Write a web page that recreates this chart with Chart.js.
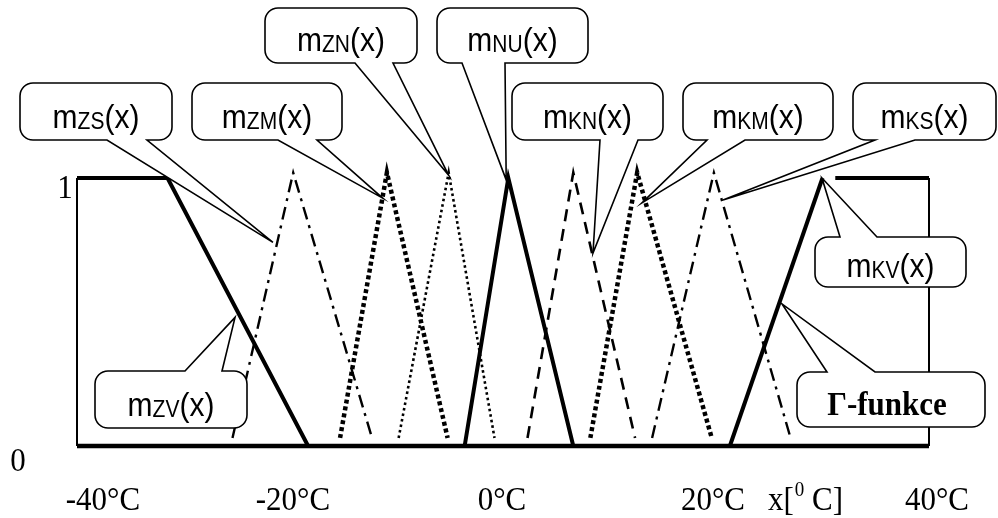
<!DOCTYPE html>
<html><head><meta charset="utf-8">
<script src="https://cdn.jsdelivr.net/npm/chart.js@4/dist/chart.umd.min.js"></script>
<style>html,body{margin:0;padding:0;background:#fff;overflow:hidden}</style>
</head><body>
<canvas id="c" width="998" height="518"></canvas>
<script>
// ---- data (x in °C, y = membership degree) ----
const xTickValues = [-40, -20, 0, 20, 40];
const xTickLabels = ['-40°C', '-20°C', '0°C', '20°C', '40°C'];
const yTickValues = [0, 1];
const yTickLabels = ['0', '1'];

const zvX = [-40, -31.5, -18.3];  const zvY = [1, 1, 0];
const zsX = [-25.4, -19.7, -12.3]; const zsY = [0.03, 1.02, 0.03];
const zmX = [-15.3, -10.9, -5.2];  const zmY = [0.03, 1.02, 0.03];
const znX = [-9.8, -5.1, -0.8];    const znY = [0.03, 1.02, 0.03];
const nuX = [-3.6, 0.5, 6.6];      const nuY = [0, 1, 0];
const knX = [2.3, 6.6, 12.4];      const knY = [0.03, 1.02, 0.03];
const kmX = [8.2, 12.6, 19.6];     const kmY = [0.03, 1.02, 0.03];
const ksX = [14.0, 19.8, 27.0];    const ksY = [0.03, 1.02, 0.03];
const kvX = [21.3, 30.0];          const kvY = [0, 1];
const kvTopX = [31.2, 40];         const kvTopY = [1, 1];
const baseX = [-40, 40];           const baseY = [0, 0];
const frameLX = [-40, -40];        const frameLY = [0, 1];
const frameRX = [40, 40];          const frameRY = [0, 1];

// callout labels: subscript name and the point (data coords) the tail points to
const calloutSubs = ['ZS', 'ZM', 'ZN', 'NU', 'KN', 'KM', 'KS', 'KV', null, 'ZV'];
const calloutTipX = [-21.6, -11.3, -5.1, 0.3, 8.45, 13.05, 20.66, 29.95, 26.2, -25.16];
const calloutTipY = [0.76, 0.925, 1.01, 0.993, 0.72, 0.907, 0.918, 1.0, 0.53, 0.48];

const pts = (xs, ys) => xs.map((x, i) => ({x, y: ys[i]}));

function ds(xs, ys, w, dash) {
  return {data: pts(xs, ys), showLine: true, fill: false, borderColor: '#000',
    borderWidth: w, borderDash: dash || [], borderCapStyle: 'butt', borderJoinStyle: 'miter',
    pointRadius: 0, tension: 0, clip: false};
}

// callout layout (pixels): box x1,y1,x2,y2 ; tail base t1,t2 ; side of the tail
const calloutBoxes = [
  [20, 83, 172, 140, 107, 147, 'bottom'],
  [192, 83, 342, 140, 278, 317, 'bottom'],
  [265, 8, 417, 63, 355, 393, 'bottom'],
  [437, 8, 588, 63, 462, 505, 'bottom'],
  [512, 83, 663, 140, 600, 638, 'bottom'],
  [683, 83, 833, 140, 707, 745, 'bottom'],
  [853, 83, 996, 140, 875, 915, 'bottom'],
  [815, 237, 966, 287, 840, 877, 'top'],
  [797, 372, 985, 427, 827, 875, 'top'],
  [95, 371, 247, 428, 185, 222, 'top']
];

const SANS = '"Liberation Sans", Arial, sans-serif';
const SERIF = '"Liberation Serif", "Times New Roman", serif';
const STRETCH = 1.1;

function tallText(ctx, t, x, y) {
  ctx.save();
  ctx.translate(x, y);
  ctx.scale(1, STRETCH);
  ctx.fillText(t, 0, 0);
  ctx.restore();
}

function drawBubble(ctx, b, tx, ty) {
  const [x1, y1, x2, y2, t1, t2, side] = b;
  const r = 13;
  ctx.beginPath();
  ctx.moveTo(x1 + r, y1);
  if (side === 'top') { ctx.lineTo(t1, y1); ctx.lineTo(tx, ty); ctx.lineTo(t2, y1); }
  ctx.arcTo(x2, y1, x2, y2, r);
  ctx.arcTo(x2, y2, x1, y2, r);
  if (side === 'bottom') { ctx.lineTo(t2, y2); ctx.lineTo(tx, ty); ctx.lineTo(t1, y2); }
  ctx.arcTo(x1, y2, x1, y1, r);
  ctx.arcTo(x1, y1, x2, y1, r);
  ctx.closePath();
  ctx.fillStyle = '#fff';
  ctx.fill();
  ctx.lineWidth = 1.6;
  ctx.strokeStyle = '#000';
  ctx.lineJoin = 'miter';
  ctx.stroke();
}

const annot = {
  id: 'annot',
  afterDatasetsDraw(chart) {
    const ctx = chart.ctx, xs = chart.scales.x, ys = chart.scales.y;
    ctx.save();
    calloutBoxes.forEach((b, i) => {
      const tx = xs.getPixelForValue(calloutTipX[i]);
      const ty = ys.getPixelForValue(calloutTipY[i]);
      drawBubble(ctx, b, tx, ty);
      const [x1, y1, x2, y2] = b;
      const cx = (x1 + x2) / 2;
      const base = y1 + (y2 - y1) * 0.79;
      ctx.fillStyle = '#000';
      ctx.textBaseline = 'alphabetic';
      ctx.textAlign = 'left';
      const sub = calloutSubs[i];
      if (sub) {
        const fM = '30px ' + SANS, fS = '21px ' + SANS;
        ctx.font = fM; const wm = ctx.measureText('m').width; const wx = ctx.measureText('(x)').width;
        ctx.font = fS; const ws = ctx.measureText(sub).width;
        let x = cx - (wm + ws + wx) / 2;
        ctx.font = fM; tallText(ctx, 'm', x, base); x += wm;
        ctx.font = fS; tallText(ctx, sub, x, base + 1); x += ws;
        ctx.font = fM; tallText(ctx, '(x)', x, base);
      } else {
        ctx.font = 'bold 31px ' + SERIF;
        ctx.textAlign = 'center';
        tallText(ctx, '\u0393-funkce', cx - 4, base);
      }
    });

    // axis tick labels
    ctx.fillStyle = '#000';
    ctx.font = '31px ' + SERIF;
    ctx.textAlign = 'center';
    ctx.textBaseline = 'alphabetic';
    const xNudge = [26, 3, -1, -3, 8];
    xTickValues.forEach((v, i) => {
      tallText(ctx, xTickLabels[i], xs.getPixelForValue(v) + xNudge[i], 510);
    });
    const yLabelX = [18, 65];
    const yNudge = [25, 20];
    yTickValues.forEach((v, i) => {
      tallText(ctx, yTickLabels[i], yLabelX[i], ys.getPixelForValue(v) + yNudge[i]);
    });
    // axis title x[⁰ C]
    ctx.textAlign = 'left';
    let x = 768;
    tallText(ctx, 'x[', x, 510); x += ctx.measureText('x[').width;
    ctx.font = '19px ' + SERIF;
    tallText(ctx, '0', x + 1, 496); x += ctx.measureText('0').width + 1;
    ctx.font = '31px ' + SERIF;
    tallText(ctx, ' C]', x, 510);
    ctx.restore();
  }
};

new Chart(document.getElementById('c'), {
  type: 'scatter',
  data: {datasets: [
    ds(frameLX, frameLY, 2),
    ds(frameRX, frameRY, 2),
    ds(zsX, zsY, 2.4, [13, 6, 3, 6]),
    ds(ksX, ksY, 2.4, [13, 6, 3, 6]),
    ds(zmX, zmY, 4.5, [4, 3]),
    ds(kmX, kmY, 4.5, [4, 3]),
    ds(znX, znY, 2.6, [2.6, 3]),
    ds(knX, knY, 2.6, [12, 8]),
    ds(zvX, zvY, 4),
    ds(nuX, nuY, 4),
    ds(kvX, kvY, 4),
    ds(kvTopX, kvTopY, 4),
    ds(baseX, baseY, 4.5)
  ]},
  options: {
    responsive: false, animation: false, devicePixelRatio: 1,
    layout: {padding: {left: 77, right: 69, top: 178, bottom: 72}},
    plugins: {legend: {display: false}, tooltip: {enabled: false}},
    scales: {
      x: {type: 'linear', min: -40, max: 40, display: false},
      y: {type: 'linear', min: 0, max: 1, display: false}
    }
  },
  plugins: [annot]
});
</script>
</body></html>
